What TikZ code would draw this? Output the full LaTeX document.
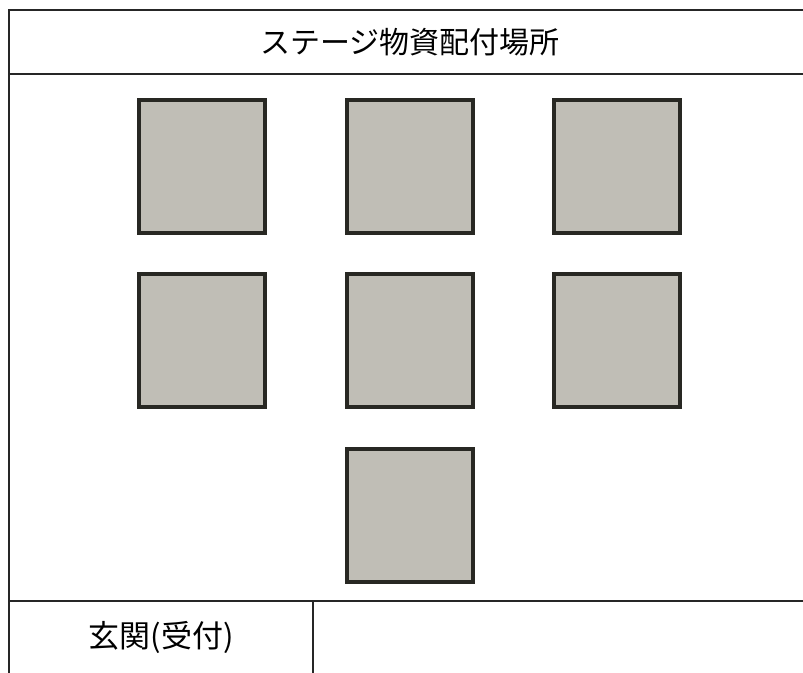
\documentclass[tikz,border=0pt]{standalone}
\usepackage{fontspec}
\newfontfamily\jpfont{Noto Sans CJK JP}
\usepackage{tikz}
\definecolor{boxfill}{RGB}{192,190,182}
\definecolor{boxline}{RGB}{40,40,35}

\begin{document}
\begin{tikzpicture}[x=1pt, y=-1pt]
    \tikzstyle{crate} = [rectangle, draw=boxline, fill=boxfill, line width=4pt,
                         minimum width=126pt, minimum height=133pt, inner sep=0pt]
    \tikzstyle{frame} = [draw=black!85, line width=1.3pt]
  \useasboundingbox (0,0) rectangle (803,672);
  \clip (0,0) rectangle (803,672);
  % outer frame
  \draw[frame] (820,10) -- (9,10) -- (9,690);
  \draw[frame] (9,74) -- (820,74);
  \draw[frame] (9,601) -- (820,601);
  \draw[frame] (313,601) -- (313,690);
  \node[font=\jpfont\fontsize{30}{34}\selectfont] (title) at (410,42) {ステージ物資配付場所};
  \node[font=\jpfont\fontsize{31}{34}\selectfont] (entry) at (161,637) {玄関(受付)};
  % boxes
  \node[crate] (b1) at (202,166) {};
  \node[crate, right of=b1, node distance=207.5pt] (b2) {};
  \node[crate, right of=b2, node distance=207.5pt] (b3) {};
  \node[crate, below of=b1, node distance=174pt] (b4) {};
  \node[crate, below of=b2, node distance=174pt] (b5) {};
  \node[crate, below of=b3, node distance=174pt] (b6) {};
  \node[crate, below of=b5, node distance=175pt] (b7) {};
\end{tikzpicture}
\end{document}
